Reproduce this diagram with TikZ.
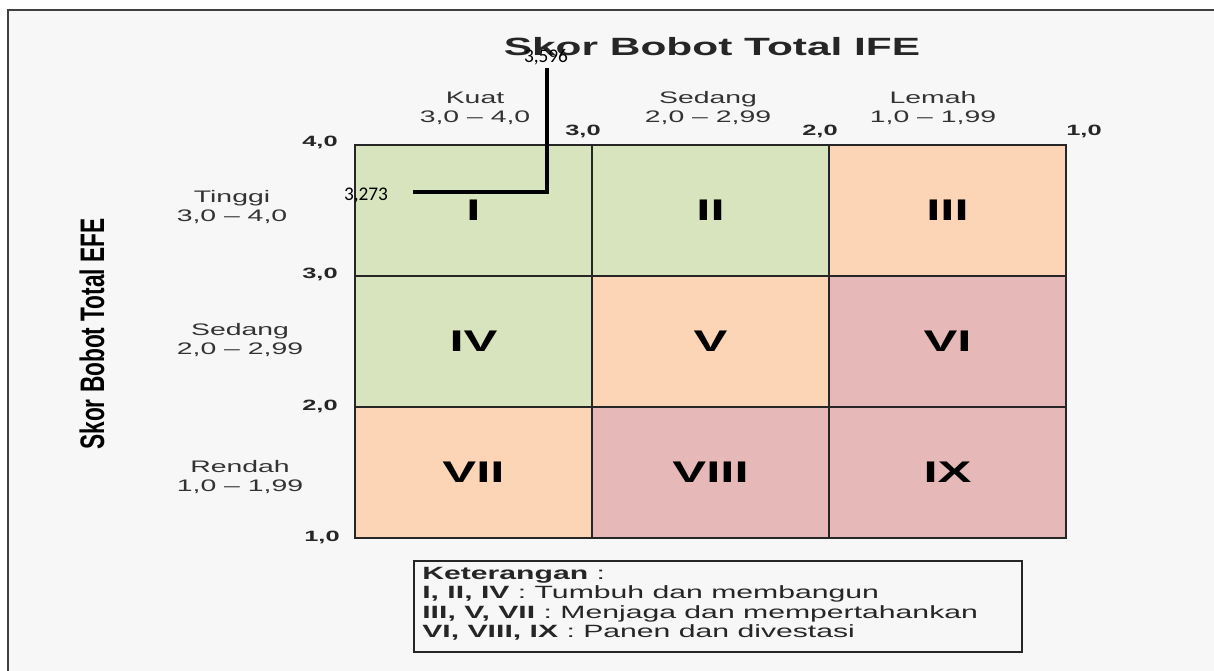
\documentclass[tikz,border=0pt]{standalone}
\usepackage{fontspec}
\setmainfont{Liberation Sans}
\newfontfamily\wide[FakeStretch=1.7]{Liberation Sans}
\newfontfamily\calib{Carlito}
\definecolor{bgc}{HTML}{F7F7F7}
\definecolor{cgreen}{HTML}{D7E4BD}
\definecolor{corange}{HTML}{FBD5B5}
\definecolor{cred}{HTML}{E6B9B8}
\begin{document}
\begin{tikzpicture}[x=0.02cm,y=-0.02cm,
  cell/.style={draw=black!85, line width=0.7pt, minimum width=4.74cm, minimum height=2.62cm, inner sep=0pt, font=\wide\bfseries\fontsize{17}{19}\selectfont},
  lab/.style={inner sep=0pt, align=center, font=\wide\fontsize{9.5}{11}\selectfont, text=black!80},
  tick/.style={inner sep=0pt, font=\wide\bfseries\fontsize{8.5}{10}\selectfont, text=black!85},
  val/.style={inner sep=0pt, font=\calib\fontsize{11}{13}\selectfont},
  marker/.style={line width=2.2pt, black}]
\useasboundingbox (0,0) rectangle (1214,671);
\fill[white] (0,0) rectangle (1214,671);
\fill[bgc, draw=black!75, line width=1pt] (8,10) rectangle (1230,690);
% title
\node[inner sep=0pt, font=\wide\bfseries\fontsize{14.2}{16}\selectfont, text=black!85] (title) at (712,47) {Skor Bobot Total IFE};
% y axis label
\node[inner sep=0pt, rotate=90] (ylab) at (92,334) {\scalebox{1}[1.5]{\bfseries\fontsize{12.9}{15}\selectfont Skor Bobot Total EFE}};
% cells
\node[cell, fill=cgreen]  (c11) at (473.5,210.5) {I};
\node[cell, fill=cgreen]  (c12) at (710.5,210.5) {II};
\node[cell, fill=corange] (c13) at (947.5,210.5) {III};
\node[cell, fill=cgreen]  (c21) at (473.5,341.5) {IV};
\node[cell, fill=corange] (c22) at (710.5,341.5) {V};
\node[cell, fill=cred]    (c23) at (947.5,341.5) {VI};
\node[cell, fill=corange] (c31) at (473.5,472.5) {VII};
\node[cell, fill=cred]    (c32) at (710.5,472.5) {VIII};
\node[cell, fill=cred]    (c33) at (947.5,472.5) {IX};
\draw[black!85, line width=1pt] (c11.north west) rectangle (c33.south east);
% column labels
\node[lab] (k1) at (475,108) {Kuat\\3,0 – 4,0};
\node[lab] (k2) at (708,108) {Sedang\\2,0 – 2,99};
\node[lab] (k3) at (933,108) {Lemah\\1,0 – 1,99};
% row labels
\node[lab] (r1) at (232,207) {Tinggi\\3,0 – 4,0};
\node[lab] (r2) at (240,340) {Sedang\\2,0 – 2,99};
\node[lab] (r3) at (240,477) {Rendah\\1,0 – 1,99};
% ticks
\node[tick] (t40) at (320,142) {4,0};
\node[tick] (tx3) at (583,131) {3,0};
\node[tick] (tx2) at (820,131) {2,0};
\node[tick] (tx1) at (1084,131) {1,0};
\node[tick] (ty3) at (320,274) {3,0};
\node[tick] (ty2) at (320,406) {2,0};
\node[tick] (ty1) at (322,537) {1,0};
% position marker
\node[val] (ife) at (546,57) {3,596};
\node[val] (efe) at (366,195) {3,273};
\coordinate (ifetop) at (547,68);
\coordinate (efeend) at (413,192);
\draw[marker] (ifetop) |- (efeend);
% legend
\node[draw=black!85, line width=1.3pt, fill=bgc, minimum width=12.16cm, minimum height=1.82cm, inner sep=0pt] (legend) at (718,606.5) {};
\node[anchor=north west, align=left, inner sep=0pt, font=\wide\fontsize{10.1}{11}\selectfont, text=black!85] (legtext) at (422,567) {%
\textbf{Keterangan} :\\
\textbf{I, II, IV} : Tumbuh dan membangun\\
\textbf{III, V, VII} : Menjaga dan mempertahankan\\
\textbf{VI, VIII, IX} : Panen dan divestasi};
\end{tikzpicture}
\end{document}
